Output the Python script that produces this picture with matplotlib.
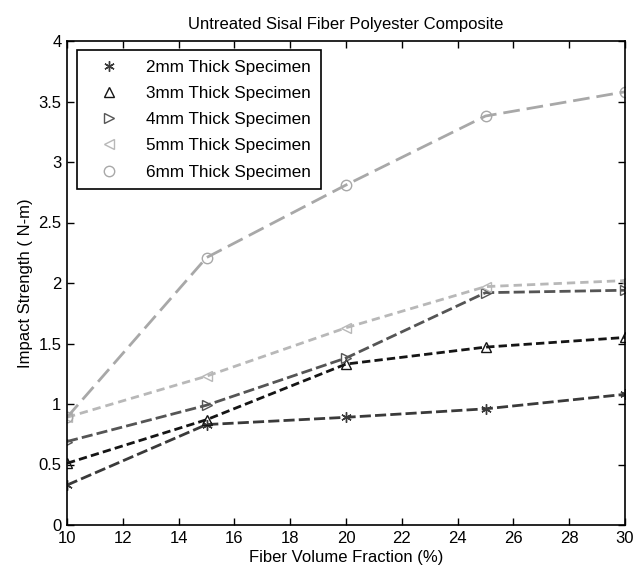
import numpy as np
import matplotlib
matplotlib.use('Agg')
import matplotlib.pyplot as plt

fraction = [10, 15, 20, 25, 30]
s2mm = [0.33, 0.83, 0.89, 0.96, 1.08]
s3mm = [0.51, 0.87, 1.33, 1.47, 1.55]
s4mm = [0.69, 0.99, 1.38, 1.92, 1.94]
s5mm = [0.89, 1.23, 1.63, 1.97, 2.02]
s6mm = [0.89, 2.21, 2.81, 3.38, 3.58]
labels = ['2mm Thick Specimen', '3mm Thick Specimen', '4mm Thick Specimen',
          '5mm Thick Specimen', '6mm Thick Specimen']

plt.rcParams['font.family'] = ['Liberation Sans', 'DejaVu Sans']
plt.rcParams['font.size'] = 12

series = [s2mm, s3mm, s4mm, s5mm, s6mm]
colors = ['#3a3a3a', '#151515', '#555555', '#b8b8b8', '#a8a8a8']
markers = [(6, 2, 0), '^', '>', '<', 'o']
dashes = [(4, 1.5), (3, 1.5), (4, 1.5), (3, 1.8), (6, 2.5)]

f = plt.figure(figsize=(6.33, 5.76), dpi=100)
ax = f.add_axes([67/633, 1-525/576, 558/633, 484/576])

handles = []
for y, c, m, d, lab in zip(series, colors, markers, dashes, labels):
    ax.plot(fraction, y, color=c, lw=2, dashes=d)
    h, = ax.plot(fraction, y, ls='none', marker=m, ms=7.5, mfc='none',
                 mec=c, mew=1, label=lab)
    handles.append(h)

ax.set_xlim(10, 30)
ax.set_ylim(0, 4)
ax.set_xticks(np.arange(10, 31, 2))
ax.set_yticks(np.arange(0, 4.01, 0.5))
ax.set_yticklabels(['0', '0.5', '1', '1.5', '2', '2.5', '3', '3.5', '4'])
ax.tick_params(direction='in', top=True, right=True, length=5, width=1, pad=4)
for s in ax.spines.values():
    s.set_linewidth(1.2)

ax.set_title('Untreated Sisal Fiber Polyester Composite', fontsize=12, pad=9)
ax.set_xlabel('Fiber Volume Fraction (%)', labelpad=3)
ax.set_ylabel('Impact Strength ( N-m)', labelpad=4)

leg = ax.legend(handles=handles, loc='upper left', bbox_to_anchor=(0.018, 0.981),
                borderaxespad=0, fancybox=False, edgecolor='black',
                framealpha=1, handlelength=2.6, handletextpad=0.9,
                labelspacing=0.66, borderpad=0.55, fontsize=12.3)
leg.get_frame().set_linewidth(1.2)

f.savefig('out.png', dpi=100)
